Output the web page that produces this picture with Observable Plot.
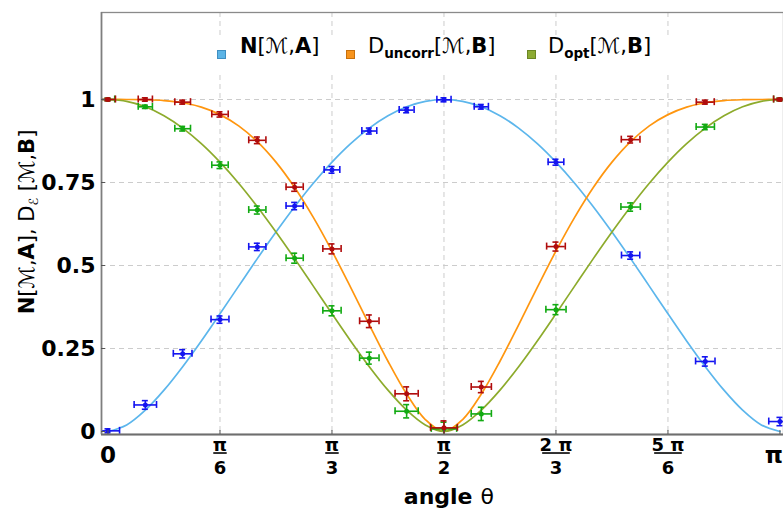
<!DOCTYPE html>
<html>
<head>
<meta charset="utf-8">
<script src="https://cdn.jsdelivr.net/npm/d3@7"></script>
<script src="https://cdn.jsdelivr.net/npm/@observablehq/plot@0.6"></script>
<style>
  html, body { margin: 0; padding: 0; background: #fff; }
  #wrap { position: relative; width: 783px; height: 513px; overflow: hidden; font-family: "DejaVu Sans", sans-serif; color: #000; }
  #legend { position: absolute; left: 205px; top: 35px; width: 472px; height: 37px; background: #fff; }
  .sw { position: absolute; top: 15px; width: 7px; height: 7px; border: 1px solid; }
  .lt { position: absolute; top: -1px; font-size: 21px; line-height: 25px; white-space: nowrap; }
  .lsub { font-size: 13.5px; font-weight: bold; position: relative; top: 5px; }
  #ylab { position: absolute; left: 0; top: 0; transform-origin: 0 0; transform: translate(17px, 222px) rotate(-90deg) translateX(-50%);
          font-size: 21px; line-height: 21px; white-space: nowrap; }
  .ysub { font-size: 12.5px; position: relative; top: 4px; }
</style>
</head>
<body>
<div id="wrap">
  <div id="chart"></div>
  <div id="legend">
    <div class="sw" style="left:12px;background:#5cb4e6;border-color:#3f8fc2"></div>
    <div class="lt" style="left:35px"><b>N</b>[ℳ,<b>A</b>]</div>
    <div class="sw" style="left:141px;background:#f7941d;border-color:#c8700c"></div>
    <div class="lt" style="left:163px">D<span class="lsub">uncorr</span>[ℳ,<b>B</b>]</div>
    <div class="sw" style="left:322px;background:#8dab33;border-color:#6b8624"></div>
    <div class="lt" style="left:343px">D<span class="lsub">opt</span>[ℳ,<b>B</b>]</div>
  </div>
  <div id="ylab"><b>N</b>[ℳ,<b>A</b>], D<span class="ysub">ℰ</span> [ℳ,<b>B</b>]</div>
</div>
<script>
// ---- theory curves, every 5 degrees ----
const curveDeg = [0,5,10,15,20,25,30,35,40,45,50,55,60,65,70,75,80,85,90,
                  95,100,105,110,115,120,125,130,135,140,145,150,155,160,165,170,175,180];
const curveN = [0,0.0199,0.0644,0.1245,0.1952,0.2728,0.3546,0.4379,0.5207,0.6009,0.6771,0.7478,0.8113,0.8670,0.9139,0.9511,0.9781,0.9945,1,
                0.9945,0.9781,0.9511,0.9139,0.8670,0.8113,0.7478,0.6771,0.6009,0.5207,0.4379,0.3546,0.2728,0.1952,0.1245,0.0644,0.0199,0];
const curveUncorr = [1,1,0.9993,0.9968,0.9901,0.9769,0.9544,0.9205,0.8731,0.8113,0.7349,0.6450,0.5436,0.4341,0.3214,0.2116,0.1128,0.0360,0,
                     0.0360,0.1128,0.2116,0.3214,0.4341,0.5436,0.6450,0.7349,0.8113,0.8731,0.9205,0.9544,0.9769,0.9901,0.9968,0.9993,1,1];
const curveOpt = [1,0.9945,0.9781,0.9511,0.9139,0.8670,0.8113,0.7478,0.6771,0.6009,0.5207,0.4379,0.3546,0.2728,0.1952,0.1245,0.0644,0.0199,0,
                  0.0199,0.0644,0.1245,0.1952,0.2728,0.3546,0.4379,0.5207,0.6009,0.6771,0.7478,0.8113,0.8670,0.9139,0.9511,0.9781,0.9945,1];

// ---- measured points (angle in degrees) with error bars ----
const ptDeg = [0,10,20,30,40,50,60,70,80,90,100,120,140,160,180];
const nY   = [0.002,0.080,0.234,0.337,0.556,0.679,0.788,0.905,0.968,0.999,0.978,0.811,0.530,0.211,0.030];
const nEx  = [3.1,3.0,2.5,2.4,2.3,2.3,2.1,2.0,2.0,1.9,1.9,2.1,2.45,2.6,3.0];
const nEy  = [0.006,0.013,0.0125,0.011,0.011,0.011,0.010,0.009,0.008,0.006,0.007,0.009,0.011,0.014,0.0125];
const uY   = [1.0,1.0,0.992,0.955,0.877,0.736,0.550,0.332,0.1135,0.011,0.134,0.557,0.879,0.992,1.0];
const uEx  = [2.0,1.9,2.1,2.2,2.3,2.3,2.45,2.6,3.1,3.6,2.7,2.5,2.5,2.4,1.7];
const uEy  = [0.004,0.005,0.006,0.008,0.010,0.0125,0.015,0.019,0.021,0.021,0.017,0.0135,0.010,0.006,0.004];
const oY   = [1.0,0.978,0.912,0.802,0.667,0.522,0.3635,0.221,0.061,0.008,0.053,0.367,0.676,0.917,1.0];
const oEx  = [1.8,1.9,2.1,2.2,2.3,2.3,2.45,2.6,3.1,3.4,2.7,2.7,2.6,2.45,1.7];
const oEy  = [0.004,0.005,0.007,0.010,0.012,0.015,0.015,0.018,0.020,0.020,0.020,0.015,0.0125,0.008,0.004];

// ---- ticks ----
const yTicks = [0, 0.25, 0.5, 0.75, 1];
const yTickLabels = ["0", "0.25", "0.5", "0.75", "1"];
const xGrid = [30, 60, 90, 120, 150];
const xFracNum = ["π", "π", "π", "2 π", "5 π"];
const xFracDen = ["6", "3", "2", "3", "6"];
const xFracBarHalf = [1.8, 1.8, 1.8, 3.7, 3.7];
const xEnds = [0, 180];
const xEndLabels = ["0", "π"];
const xTicks = [0, 30, 60, 90, 120, 150, 180];

const xMin = -1.74, xMax = 180.95, yMin = -0.009, yMax = 1.262;
const pxPerY = 332, pxPerDeg = 3.733;
const fracBarY = -21.5 / pxPerY;

function bars(ys, exs, eys, color) {
  const idx = d3.range(ptDeg.length);
  const capY = 3.5 / pxPerY, capX = 3 / pxPerDeg;
  const o = {stroke: color, strokeWidth: 1.6, clip: true};
  return [
    Plot.ruleY(idx, {y: i => ys[i], x1: i => ptDeg[i] - exs[i], x2: i => ptDeg[i] + exs[i], ...o}),
    Plot.ruleX(idx, {x: i => ptDeg[i], y1: i => ys[i] - eys[i], y2: i => ys[i] + eys[i], ...o}),
    Plot.ruleX(idx, {x: i => ptDeg[i] - exs[i], y1: i => ys[i] - capY, y2: i => ys[i] + capY, ...o}),
    Plot.ruleX(idx, {x: i => ptDeg[i] + exs[i], y1: i => ys[i] - capY, y2: i => ys[i] + capY, ...o}),
    Plot.ruleY(idx, {y: i => ys[i] - eys[i], x1: i => ptDeg[i] - capX, x2: i => ptDeg[i] + capX, ...o}),
    Plot.ruleY(idx, {y: i => ys[i] + eys[i], x1: i => ptDeg[i] - capX, x2: i => ptDeg[i] + capX, ...o}),
    Plot.dot(idx, {x: i => ptDeg[i], y: i => ys[i], r: 2.5, fill: color, stroke: null, clip: true})
  ];
}

const gridStyle = {stroke: "#cccccc", strokeWidth: 1, strokeDasharray: "5,4"};
const fi = d3.range(xGrid.length);

const plot = Plot.plot({
  width: 783,
  height: 513,
  marginLeft: 101,
  marginRight: 0,
  marginTop: 12,
  marginBottom: 79,
  style: {fontFamily: "DejaVu Sans", background: "#fff", overflow: "visible"},
  x: {domain: [xMin, xMax], axis: null},
  y: {domain: [yMin, yMax], axis: null},
  marks: [
    Plot.ruleY(yTicks.slice(1), {y: d => d, ...gridStyle}),
    Plot.ruleX(xGrid, {x: d => d, ...gridStyle}),
    Plot.line(curveDeg, {x: d => d, y: (d, i) => curveN[i], stroke: "#5cb6ec", strokeWidth: 1.7, curve: "catmull-rom"}),
    Plot.line(curveDeg, {x: d => d, y: (d, i) => curveUncorr[i], stroke: "#ff960f", strokeWidth: 1.7, curve: "catmull-rom"}),
    Plot.line(curveDeg, {x: d => d, y: (d, i) => curveOpt[i], stroke: "#8dab2c", strokeWidth: 1.7, curve: "catmull-rom"}),
    ...bars(oY, oEx, oEy, "#12aa12"),
    ...bars(uY, uEx, uEy, "#b00c0c"),
    ...bars(nY, nEx, nEy, "#1414f0"),
    Plot.frame({stroke: "#8a8a8a", strokeWidth: 1.3}),
    Plot.ruleY([yMin], {y: d => d, stroke: "#6e6e6e", strokeWidth: 2}),
    Plot.ruleX([xMin], {x: d => d, stroke: "#7e7e7e", strokeWidth: 1.6}),
    Plot.ruleX(xTicks, {x: d => d, y1: yMin, y2: yMin + 4 / pxPerY, stroke: "#555", strokeWidth: 1}),
    Plot.ruleY(yTicks, {y: d => d, x1: xMin, x2: xMin + 4 / pxPerDeg, stroke: "#555", strokeWidth: 1}),
    Plot.text(yTicks, {y: d => d, text: (d, i) => yTickLabels[i], frameAnchor: "left", dx: -6, textAnchor: "end",
                       fontSize: 22, fontWeight: "bold", lineAnchor: "middle"}),
    Plot.text([xEnds[0]], {x: d => d, text: () => xEndLabels[0], frameAnchor: "bottom", dy: 21,
                      fontSize: 23, fontWeight: "bold", lineAnchor: "middle"}),
    Plot.text([xEnds[1]], {x: d => d, text: () => xEndLabels[1], frameAnchor: "bottom", dy: 21, dx: 3, textAnchor: "end",
                      fontSize: 23, fontWeight: "bold", lineAnchor: "middle"}),
    Plot.text(fi, {x: i => xGrid[i], text: i => xFracNum[i], frameAnchor: "bottom", dy: 10.5,
                   fontSize: 18, fontWeight: "bold", lineAnchor: "middle"}),
    Plot.link(fi, {x1: i => xGrid[i] - xFracBarHalf[i], x2: i => xGrid[i] + xFracBarHalf[i],
                   y1: fracBarY, y2: fracBarY, stroke: "#000", strokeWidth: 1.6}),
    Plot.text(fi, {x: i => xGrid[i], text: i => xFracDen[i], frameAnchor: "bottom", dy: 34,
                   fontSize: 18, fontWeight: "bold", lineAnchor: "middle"}),
    Plot.text(["angle"], {text: d => d, frameAnchor: "bottom", dx: 30, dy: 62, textAnchor: "end",
                          fontSize: 22, fontWeight: "bold", lineAnchor: "middle"}),
    Plot.text(["θ"], {text: d => d, frameAnchor: "bottom", dx: 38, dy: 62, textAnchor: "start",
                      fontSize: 22, lineAnchor: "middle"})
  ]
});

document.getElementById("chart").appendChild(plot);
</script>
</body>
</html>
